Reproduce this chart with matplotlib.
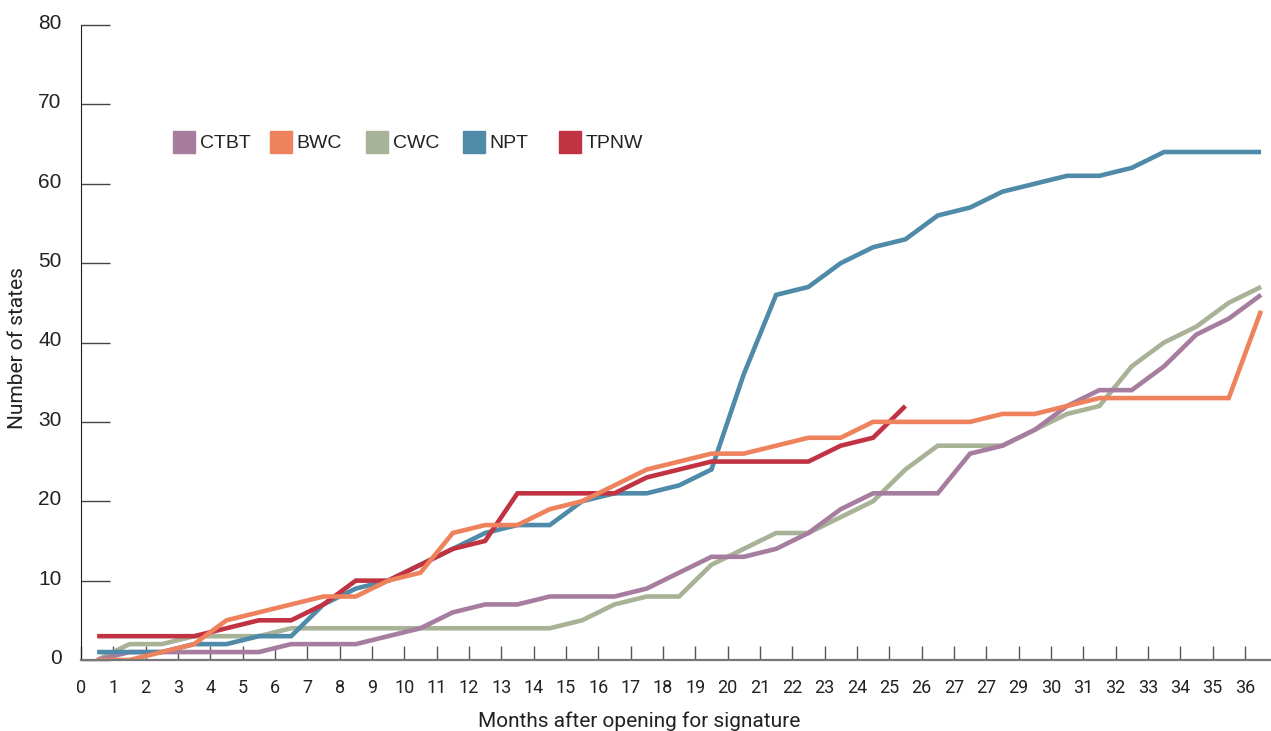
import matplotlib
matplotlib.use("Agg")
import matplotlib.pyplot as plt
import matplotlib.transforms as mtransforms
from matplotlib.patches import Rectangle
import numpy as np

# months after opening for signature (one value per month, 0..36)
months = np.arange(37) + 0.5
tick_labels = ["0", "1", "2", "3", "4", "5", "6", "7", "8", "9", "10", "11", "12",
               "13", "14", "15", "16", "17", "18", "19", "20", "21", "22", "23", "24",
               "25", "26", "27", "27", "29", "30", "31", "32", "33", "34", "35", "36"]

ctbt = [0, 1, 1, 1, 1, 1, 2, 2, 2, 3, 4, 6, 7, 7, 8, 8, 8, 9, 11, 13, 13, 14, 16, 19,
        21, 21, 21, 26, 27, 29, 32, 34, 34, 37, 41, 43, 46]
bwc = [0, 0, 1, 2, 5, 6, 7, 8, 8, 10, 11, 16, 17, 17, 19, 20, 22, 24, 25, 26, 26, 27,
       28, 28, 30, 30, 30, 30, 31, 31, 32, 33, 33, 33, 33, 33, 44]
cwc = [0, 2, 2, 3, 3, 3, 4, 4, 4, 4, 4, 4, 4, 4, 4, 5, 7, 8, 8, 12, 14, 16, 16, 18,
       20, 24, 27, 27, 27, 29, 31, 32, 37, 40, 42, 45, 47]
npt = [1, 1, 1, 2, 2, 3, 3, 7, 9, 10, 12, 14, 16, 17, 17, 20, 21, 21, 22, 24, 36, 46,
       47, 50, 52, 53, 56, 57, 59, 60, 61, 61, 62, 64, 64, 64, 64]
tpnw = [3, 3, 3, 3, 4, 5, 5, 7, 10, 10, 12, 14, 15, 21, 21, 21, 21, 23, 24, 25, 25,
        25, 25, 27, 28, 32]

names = ["CTBT", "BWC", "CWC", "NPT", "TPNW"]
colors = {"CTBT": "#A67D9E", "BWC": "#EE825D", "CWC": "#A8B296",
          "NPT": "#4F8AA8", "TPNW": "#C13243"}
series = {"CTBT": ctbt, "BWC": bwc, "CWC": cwc, "NPT": npt, "TPNW": tpnw}

W, H = 1271, 731
fig = plt.figure(figsize=(W / 100, H / 100), dpi=100)
ax = fig.add_axes([81 / W, (H - 660) / H, 1 - 81 / W, (660 - 25) / H])

for name in ["CWC", "CTBT", "NPT", "TPNW", "BWC"]:
    vals = series[name]
    ax.plot(months[:len(vals)], vals, color=colors[name], linewidth=3.3,
            solid_joinstyle="miter", solid_capstyle="butt")

ax.set_xlim(0, (W - 81) / 32.33)
ax.set_ylim(0, 80)

ax.spines["top"].set_visible(False)
ax.spines["right"].set_visible(False)
ax.spines["left"].set_color("#222222")
ax.spines["left"].set_linewidth(0.8)
ax.spines["bottom"].set_color("#777777")
ax.spines["bottom"].set_linewidth(1.6)

ax.set_xticks(np.arange(37))
ax.set_xticklabels(tick_labels, family="Roboto", fontsize=13, color="#222222")
ax.tick_params(axis="x", direction="in", length=10, width=1, color="#555555", pad=14)

ax.set_yticks(np.arange(0, 81, 10))
ax.set_yticklabels([str(v) for v in range(0, 81, 10)], family="Liberation Sans",
                   fontsize=15, color="#222222")
ax.tick_params(axis="y", direction="in", length=21, width=1, color="#444444", pad=14)
offset = mtransforms.ScaledTranslation(0, 3.5 / 100, fig.dpi_scale_trans)
for lab in ax.get_yticklabels():
    lab.set_transform(lab.get_transform() + offset)

fig.text(17.5 / W, 1 - 348 / H, "Number of states", rotation=90, family="Roboto",
         fontsize=15, color="#222222", ha="center", va="center")
fig.text(639 / W, 1 - 721 / H, "Months after opening for signature", family="Roboto",
         fontsize=15, color="#222222", ha="center", va="center")

# legend: coloured squares with labels in a row
for k, name in enumerate(names):
    x0 = 173 + k * 96.5
    fig.patches.append(Rectangle((x0 / W, 1 - 153 / H), 22 / W, 22 / H,
                                 transform=fig.transFigure, color=colors[name]))
    fig.text((x0 + 27) / W, 1 - 143 / H, name, family="Liberation Sans",
             fontsize=14, color="#222222", ha="left", va="center")

fig.savefig("out.png", dpi=100)
